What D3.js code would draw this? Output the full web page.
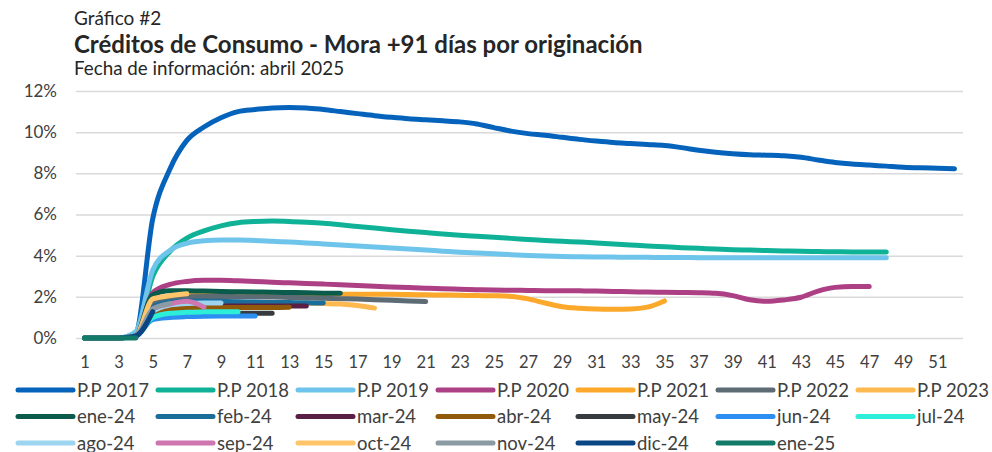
<!DOCTYPE html>
<html>
<head>
<meta charset="utf-8">
<script src="https://cdn.jsdelivr.net/npm/d3@7"></script>
<style>
  body { margin: 0; background: #fff; }
  text { font-family: Lato, "Open Sans", sans-serif; }
</style>
</head>
<body>
<script>
// meses desde originación
var categories = [];
for (var c = 1; c <= 52; c++) categories.push(c);
var xTicks = [1,3,5,7,9,11,13,15,17,19,21,23,25,27,29,31,33,35,37,39,41,43,45,47,49,51];
var yTicks = [0,2,4,6,8,10,12];

// mora +91 días (%) por cohorte
var pp2017 = [0,0,0,0.25,5.8,8.2,9.6,10.25,10.7,11.0,11.1,11.18,11.2,11.18,11.1,11.0,10.9,10.8,10.72,10.65,10.6,10.55,10.5,10.4,10.22,10.05,9.93,9.85,9.75,9.65,9.57,9.5,9.45,9.4,9.35,9.25,9.12,9.02,8.95,8.9,8.88,8.85,8.78,8.65,8.53,8.45,8.4,8.35,8.3,8.27,8.25,8.22];
var pp2018 = [0,0,0,0.15,3.0,4.2,4.85,5.2,5.45,5.6,5.66,5.68,5.66,5.62,5.57,5.5,5.42,5.34,5.26,5.19,5.12,5.05,4.99,4.94,4.89,4.84,4.79,4.74,4.7,4.66,4.62,4.57,4.52,4.47,4.43,4.39,4.36,4.32,4.29,4.27,4.25,4.23,4.21,4.2,4.19,4.18,4.18,4.18];
var pp2019 = [0,0,0,0.3,3.3,4.25,4.6,4.72,4.76,4.76,4.74,4.7,4.66,4.62,4.57,4.52,4.47,4.42,4.37,4.32,4.27,4.22,4.17,4.13,4.09,4.05,4.01,3.98,3.96,3.95,3.94,3.93,3.92,3.92,3.91,3.91,3.9,3.9,3.9,3.9,3.9,3.9,3.9,3.9,3.9,3.9,3.9,3.9];
var pp2020 = [0,0,0,0.1,2.2,2.6,2.75,2.8,2.8,2.78,2.75,2.71,2.68,2.65,2.62,2.59,2.55,2.51,2.48,2.45,2.42,2.39,2.37,2.35,2.33,2.32,2.31,2.3,2.3,2.29,2.28,2.26,2.25,2.23,2.22,2.21,2.2,2.17,2.06,1.86,1.78,1.85,1.98,2.28,2.46,2.5,2.5];
var pp2021 = [0,0,0,0.1,1.75,2.0,2.1,2.13,2.15,2.16,2.16,2.15,2.15,2.14,2.14,2.13,2.13,2.12,2.12,2.11,2.1,2.09,2.08,2.06,2.05,2.02,1.9,1.7,1.52,1.45,1.41,1.4,1.41,1.5,1.8];
var pp2022 = [0,0,0,0.1,1.7,1.95,2.0,2.02,2.02,2.01,2.0,1.99,1.97,1.95,1.93,1.91,1.89,1.86,1.83,1.8,1.77];
var pp2023 = [0,0,0,0.1,1.4,1.6,1.7,1.72,1.72,1.72,1.71,1.7,1.7,1.69,1.68,1.65,1.58,1.45];
var ene24 = [0,0,0,0.1,2.1,2.3,2.3,2.28,2.26,2.25,2.24,2.22,2.21,2.2,2.18,2.17];
var feb24 = [0,0,0,0.1,1.5,1.75,1.8,1.8,1.78,1.76,1.75,1.73,1.72,1.71,1.7];
var mar24 = [0,0,0,0.1,1.3,1.5,1.55,1.56,1.56,1.56,1.55,1.55,1.55,1.55];
var abr24 = [0,0,0,0.1,1.2,1.4,1.45,1.47,1.48,1.48,1.48,1.48,1.49];
var may24 = [0,0,0,0.1,1.0,1.15,1.18,1.2,1.2,1.2,1.2,1.2];
var jun24 = [0,0,0,0.1,0.9,1.0,1.04,1.06,1.07,1.07,1.07];
var jul24 = [0,0,0,0.1,1.0,1.2,1.25,1.27,1.28,1.28];
var ago24 = [0,0,0,0.1,1.3,1.6,1.68,1.7,1.7];
var sep24 = [0,0,0,0.1,1.4,1.65,1.78,1.5];
var oct24 = [0,0,0,0.1,1.9,2.05,2.15];
var nov24 = [0,0,0,0.1,1.4,1.67];
var dic24 = [0,0,0,0.1,1.28];
var ene25 = [0,0,0,0];

var seriesNames = ["P.P 2017","P.P 2018","P.P 2019","P.P 2020","P.P 2021","P.P 2022","P.P 2023",
  "ene-24","feb-24","mar-24","abr-24","may-24","jun-24","jul-24","ago-24","sep-24","oct-24","nov-24","dic-24","ene-25"];
var seriesValues = [pp2017,pp2018,pp2019,pp2020,pp2021,pp2022,pp2023,
  ene24,feb24,mar24,abr24,may24,jun24,jul24,ago24,sep24,oct24,nov24,dic24,ene25];
var seriesColors = ["#0563bb","#10b297","#6ec4ea","#ad3f84","#fba82b","#5d6b74","#fdb850",
  "#0b5b4c","#1c6e9a","#5a1f45","#915a0a","#363b40","#2b8ef0","#2deed8","#9dd5f1","#ce76af","#ffc56b","#8c9aa3","#0a4683","#127a68"];

var width = 992, height = 452;
var svg = d3.select('body').append('svg').attr('width',width).attr('height',height);

// titulos
svg.append('text').attr('x',74).attr('y',25).attr('font-size',19).attr('fill','#262626').text('Gráfico #2');
svg.append('text').attr('x',74).attr('y',53).attr('font-size',24).attr('font-weight','bold').attr('fill','#262626')
  .text('Créditos de Consumo - Mora +91 días por originación');
svg.append('text').attr('x',74).attr('y',75).attr('font-size',18.8).attr('fill','#262626').text('Fecha de información: abril 2025');

var x = d3.scalePoint().domain(categories).range([76,963]).padding(0.5);
var y = d3.scaleLinear().domain([0,12]).range([338,91]);

// grilla y eje y
var yAxis = svg.append('g').attr('transform','translate(76,0)')
  .call(d3.axisLeft(y).tickValues(yTicks).tickSize(-887).tickFormat(function(d){ return d + '%'; }));
yAxis.select('.domain').remove();
yAxis.selectAll('.tick line').attr('stroke','#d9d9d9').attr('stroke-width',1.5);
yAxis.selectAll('.tick text').attr('x',-19).attr('font-size',17).attr('fill','#404040')
  .attr('font-family','Lato, sans-serif');

// eje x
var xAxis = svg.append('g').attr('transform','translate(0,338)')
  .call(d3.axisBottom(x).tickValues(xTicks).tickSize(0));
xAxis.select('.domain').remove();
xAxis.selectAll('.tick text').attr('y',18).attr('font-size',16.5).attr('fill','#404040')
  .attr('font-family','Lato, sans-serif');

// lineas suavizadas, sin bajar de 0
var line = d3.line()
  .x(function(d,i){ return x(categories[i]); })
  .y(function(d){ return y(d); })
  .curve(d3.curveMonotoneX);

svg.append('g').selectAll('path').data(seriesValues).enter().append('path')
  .attr('d', line)
  .attr('fill','none')
  .attr('stroke', function(d,i){ return seriesColors[i]; })
  .attr('stroke-width',5)
  .attr('stroke-linecap','round')
  .attr('stroke-linejoin','round');

// leyenda
var legend = svg.append('g').selectAll('g').data(seriesNames).enter().append('g')
  .attr('transform', function(d,i){ return 'translate(' + (18 + (i % 7) * 140) + ',' + (390 + Math.floor(i / 7) * 26.5) + ')'; });
legend.append('line').attr('x1',0).attr('x2',55).attr('y1',0).attr('y2',0)
  .attr('stroke', function(d,i){ return seriesColors[i]; })
  .attr('stroke-width',5).attr('stroke-linecap','round');
legend.append('text').attr('x',59).attr('y',6.5).attr('font-size',18.5).attr('fill','#404040').text(function(d){ return d; });
</script>
</body>
</html>
